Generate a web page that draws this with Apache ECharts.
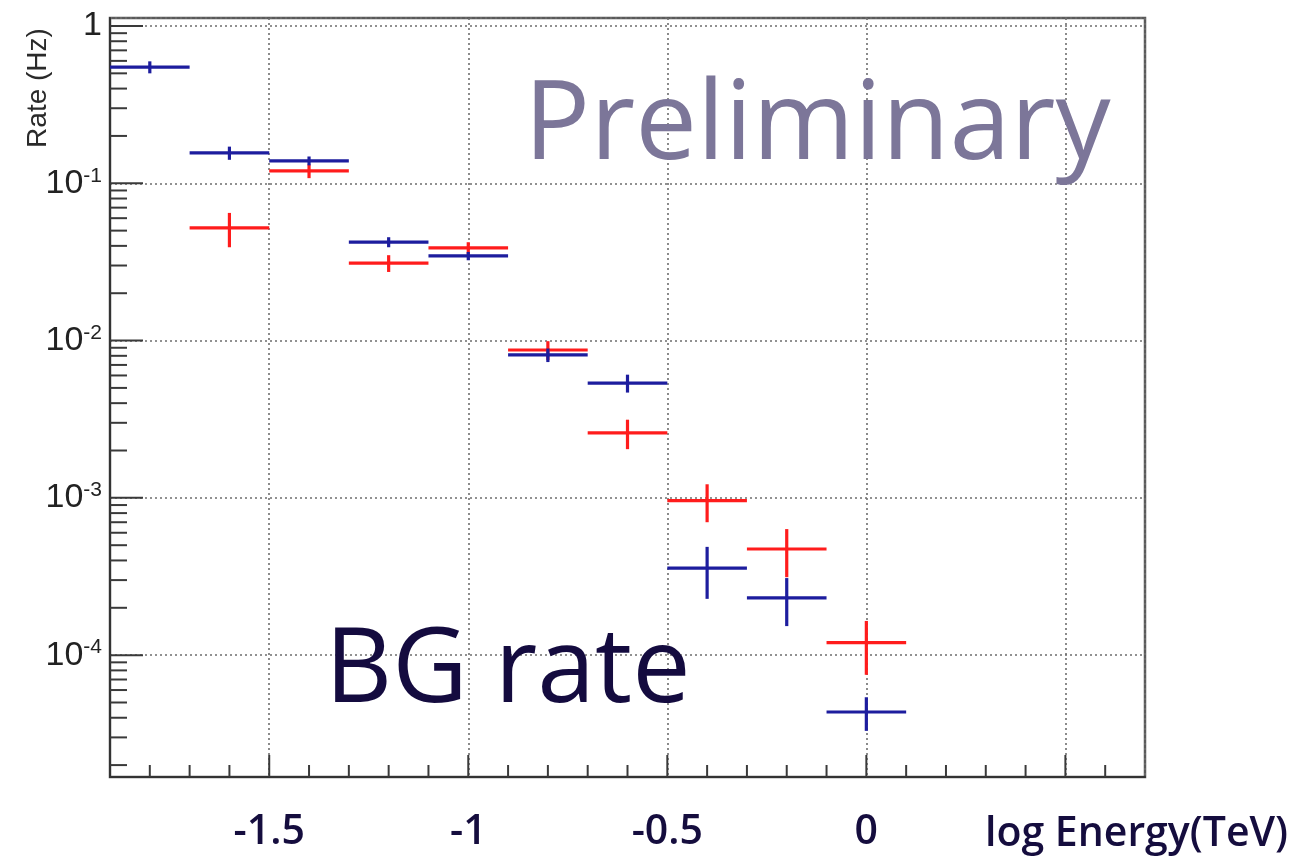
<!DOCTYPE html>
<html>
<head>
<meta charset="utf-8">
<script src="https://cdn.jsdelivr.net/npm/echarts@6/dist/echarts.min.js"></script>
<style>
  html, body { margin: 0; padding: 0; background: #ffffff; }
  #chart { width: 1299px; height: 856px; }
</style>
</head>
<body>
<div id="chart"></div>
<script>
// Background rate per log-energy bin (bin width 0.2 in log10 E/TeV)
const binHalfWidth = 0.1;

const blueCenters = [-1.8, -1.6, -1.4, -1.2, -1.0, -0.8, -0.6, -0.4, -0.2, 0.0];
const blueRate    = [0.548, 0.156, 0.139, 0.0423, 0.0345, 0.0081, 0.00537, 3.58e-4, 2.31e-4, 4.35e-5];
const blueErr     = [0.048, 0.015, 0.009, 0.0031, 0.0021, 0.0008, 0.0007, 1.3e-4, 7.8e-5, 1.05e-5];

const redCenters = [-1.6, -1.4, -1.2, -1.0, -0.8, -0.6, -0.4, -0.2, 0.0];
const redRate    = [0.052, 0.1198, 0.0311, 0.0388, 0.00871, 0.00259, 9.6e-4, 4.73e-4, 1.2e-4];
const redErr     = [0.0128, 0.012, 0.0038, 0.0034, 0.0012, 0.00055, 2.6e-4, 1.6e-4, 4.5e-5];

// Axis ranges
const X_MIN = -1.9, X_MAX = 0.7;
const Y_MIN = 1.68e-5, Y_MAX = 1.124;

// Tick positions (ROOT-style: 0.1 steps on x, 1..9 x 10^n on y)
const xTickValues = [];
for (let i = -18; i <= 6; i++) xTickValues.push(i / 10);
const yTickValues = [];
for (let e = -5; e <= 0; e++) {
  for (let k = 1; k <= 9; k++) {
    const v = k * Math.pow(10, e);
    if (v > Y_MIN && v < Y_MAX) yTickValues.push(v);
  }
}

const BLUE = '#1d1d9e';
const RED = '#ff1c1c';
const LABEL_FONT = '"Liberation Sans", Arial, sans-serif';
const OVERLAY_FONT = '"Open Sans", "Noto Sans", sans-serif';

function toRows(centers, rates, errs) {
  return centers.map((c, i) => [c, rates[i], errs[i]]);
}

function errorBar(color) {
  return function (params, api) {
    const x = api.value(0), y = api.value(1), e = api.value(2);
    const pL = api.coord([x - binHalfWidth, y]);
    const pR = api.coord([x + binHalfWidth, y]);
    const pT = api.coord([x, y + e]);
    const pB = api.coord([x, Math.max(y - e, Y_MIN)]);
    const style = { stroke: color, lineWidth: 3.2 };
    return {
      type: 'group',
      children: [
        { type: 'line', shape: { x1: pL[0], y1: pL[1], x2: pR[0], y2: pR[1] }, style: style },
        { type: 'line', shape: { x1: pT[0], y1: pT[1], x2: pB[0], y2: pB[1] }, style: style }
      ]
    };
  };
}

const gridLine = { show: true, lineStyle: { color: '#6e6e6e', width: 1.6, type: [2, 3] } };

const chart = echarts.init(document.getElementById('chart'), null, { renderer: 'canvas' });

chart.setOption({
  animation: false,
  backgroundColor: '#ffffff',
  grid: {
    left: 110, right: 154, top: 18, bottom: 79,
    show: true, borderColor: '#5a5a5a', borderWidth: 2.5
  },
  xAxis: {
    type: 'value',
    min: X_MIN, max: X_MAX,
    axisLine: { show: true, onZero: false, lineStyle: { color: '#333', width: 2 } },
    axisTick: { show: false },
    splitLine: gridLine,
    axisLabel: {
      showMinLabel: false, showMaxLabel: false,
      margin: 35,
      fontFamily: OVERLAY_FONT,
      fontWeight: 600,
      fontSize: 41,
      color: '#150d3e',
      formatter: function (v) {
        if (Math.abs(v - 0.5) < 1e-6) return '';
        return String(Math.round(v * 10) / 10);
      }
    }
  },
  yAxis: {
    type: 'log',
    logBase: 10,
    min: Y_MIN, max: Y_MAX,
    axisLine: { show: true, onZero: false, lineStyle: { color: '#333', width: 2 } },
    axisTick: { show: false },
    splitLine: gridLine,
    axisLabel: {
      showMinLabel: false, showMaxLabel: false,
      margin: 8,
      color: '#222',
      fontSize: 34,
      fontFamily: LABEL_FONT,
      formatter: function (v) {
        const e = Math.round(Math.log10(v));
        if (Math.abs(Math.log10(v) - e) > 1e-6) return '';
        if (e === 0) return '{b|1}';
        return '{b|10}{s|' + e + '}';
      },
      rich: {
        b: { fontSize: 34, lineHeight: 36, color: '#222', fontFamily: LABEL_FONT },
        s: { fontSize: 21, lineHeight: 22, verticalAlign: 'top', color: '#222', fontFamily: LABEL_FONT }
      }
    }
  },
  graphic: [
    {
      type: 'text', x: 38, y: 88, rotation: Math.PI / 2,
      style: {
        text: 'Rate (Hz)', fill: '#2a2a2a', fontSize: 28,
        fontFamily: LABEL_FONT,
        align: 'center', verticalAlign: 'middle'
      }
    },
    {
      type: 'text', x: 985, y: 834,
      style: {
        text: 'log Energy(TeV)', fill: '#150d3e', fontSize: 41, fontWeight: 600,
        fontFamily: OVERLAY_FONT,
        align: 'left', verticalAlign: 'middle'
      }
    },
    {
      type: 'text', x: 524, y: 128, z: 5,
      style: {
        text: 'Preliminary', fill: '#7c7699', fontSize: 110,
        fontFamily: OVERLAY_FONT,
        align: 'left', verticalAlign: 'middle'
      }
    },
    {
      type: 'text', x: 325, y: 672, z: 5,
      style: {
        text: 'BG rate', fill: '#140b3f', fontSize: 104,
        fontFamily: OVERLAY_FONT,
        align: 'left', verticalAlign: 'middle'
      }
    }
  ],
  series: [
    {
      name: 'x ticks',
      type: 'custom',
      silent: true,
      z: 3,
      data: xTickValues.map(v => [v, Y_MIN]),
      encode: { x: 0, y: 1 },
      renderItem: function (params, api) {
        const v = api.value(0);
        const p = api.coord([v, Y_MIN]);
        const major = Math.abs(v * 2 - Math.round(v * 2)) < 1e-6;
        const len = major ? 22 : 12;
        return { type: 'line', shape: { x1: p[0], y1: p[1], x2: p[0], y2: p[1] - len }, style: { stroke: '#3a3a3a', lineWidth: 2 } };
      }
    },
    {
      name: 'y ticks',
      type: 'custom',
      silent: true,
      z: 3,
      data: yTickValues.map(v => [X_MIN, v]),
      encode: { x: 0, y: 1 },
      renderItem: function (params, api) {
        const v = api.value(1);
        const p = api.coord([X_MIN, v]);
        const l = Math.log10(v);
        const major = Math.abs(l - Math.round(l)) < 1e-6;
        const len = major ? 33 : 17;
        return { type: 'line', shape: { x1: p[0], y1: p[1], x2: p[0] + len, y2: p[1] }, style: { stroke: '#3a3a3a', lineWidth: 2 } };
      }
    },
    {
      name: 'red',
      type: 'custom',
      z: 4,
      data: toRows(redCenters, redRate, redErr),
      encode: { x: 0, y: 1 },
      renderItem: errorBar(RED)
    },
    {
      name: 'blue',
      type: 'custom',
      z: 4,
      data: toRows(blueCenters, blueRate, blueErr),
      encode: { x: 0, y: 1 },
      renderItem: errorBar(BLUE)
    }
  ]
});
</script>
</body>
</html>
